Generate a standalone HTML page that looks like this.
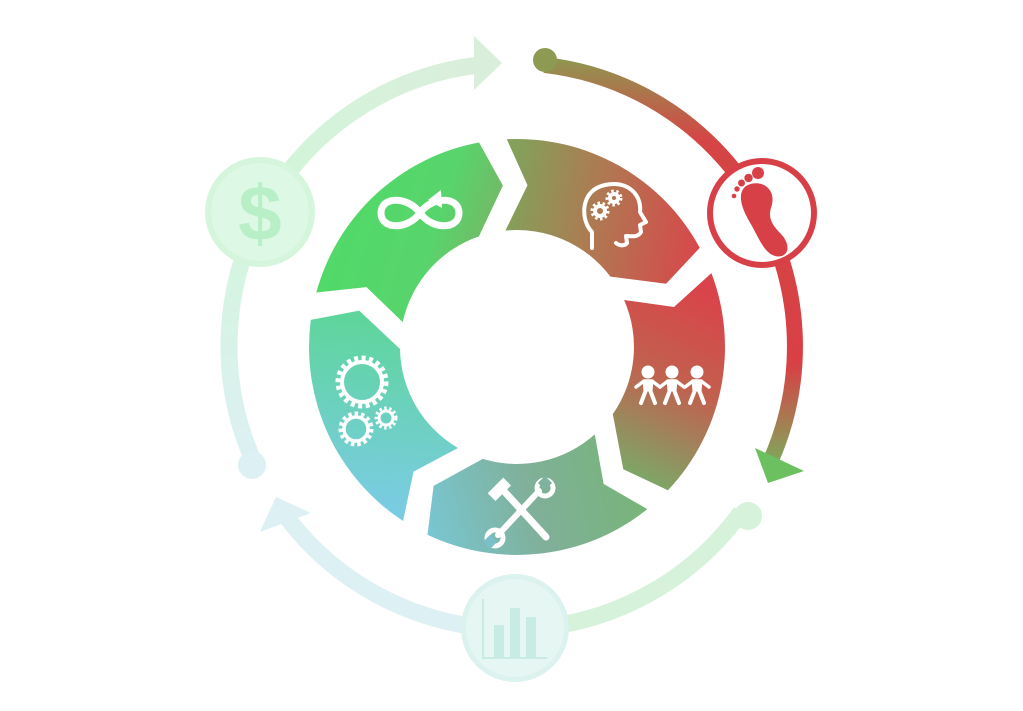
<!DOCTYPE html>
<html><head><meta charset="utf-8"><style>
html,body{margin:0;padding:0;background:#fff;}
svg{display:block;}
</style></head><body>
<svg id="s" width="1023" height="711" viewBox="0 0 1023 711" xmlns="http://www.w3.org/2000/svg">
<defs>
<linearGradient id="gE" gradientUnits="userSpaceOnUse" x1="330" y1="200" x2="505" y2="255"><stop offset="0" stop-color="#50da68"/><stop offset="0.6" stop-color="#58d46c"/><stop offset="1" stop-color="#7db064"/></linearGradient>
<linearGradient id="gA" gradientUnits="userSpaceOnUse" x1="510" y1="200" x2="705" y2="230"><stop offset="0" stop-color="#84a05a"/><stop offset="0.45" stop-color="#b07852"/><stop offset="1" stop-color="#d9464a"/></linearGradient>
<linearGradient id="gB" gradientUnits="userSpaceOnUse" x1="720" y1="300" x2="630" y2="480"><stop offset="0" stop-color="#d9444a"/><stop offset="0.45" stop-color="#c2604e"/><stop offset="1" stop-color="#7aaa68"/></linearGradient>
<linearGradient id="gC" gradientUnits="userSpaceOnUse" x1="640" y1="470" x2="420" y2="530"><stop offset="0" stop-color="#78b478"/><stop offset="0.5" stop-color="#80b09a"/><stop offset="1" stop-color="#78c8d6"/></linearGradient>
<linearGradient id="gD" gradientUnits="userSpaceOnUse" x1="380" y1="305" x2="360" y2="505"><stop offset="0" stop-color="#5cd696"/><stop offset="1" stop-color="#7acce2"/></linearGradient>
<linearGradient id="gRed" gradientUnits="userSpaceOnUse" x1="0" y1="55" x2="0" y2="485"><stop offset="0" stop-color="#8c9a52"/><stop offset="0.2" stop-color="#d54545"/><stop offset="0.72" stop-color="#d84045"/><stop offset="1" stop-color="#6cc060"/></linearGradient>
<linearGradient id="gL" gradientUnits="userSpaceOnUse" x1="0" y1="470" x2="0" y2="210"><stop offset="0" stop-color="#ddf0f4"/><stop offset="1" stop-color="#d3f5dc"/></linearGradient>
<linearGradient id="gT" gradientUnits="userSpaceOnUse" x1="260" y1="0" x2="480" y2="0"><stop offset="0" stop-color="#d2f5da"/><stop offset="1" stop-color="#dbeedc"/></linearGradient>
</defs>
<g id="ring"></g>
<g id="outer"></g>

<polygon points="474,36 474,90 502,63" fill="#d9eedb"/>
<circle cx="545" cy="60" r="12" fill="#8c9a52"/>
<polygon points="755,448 804,471 768,483" fill="#6cc060"/>
<polygon points="276,497 260,532 311,513" fill="#ddf0f4"/>
<circle cx="252" cy="465" r="14" fill="#ddf0f4"/>
<circle cx="748" cy="516" r="14" fill="#d6f2da"/>

<circle cx="260" cy="212" r="55" fill="#d5f5dd"/>
<circle cx="260" cy="212" r="49" fill="#ddf8e4"/>
<text x="260" y="240" text-anchor="middle" font-family="Liberation Sans, sans-serif" font-weight="bold" font-size="78" fill="#b9efc6">$</text>

<circle cx="515" cy="628" r="54" fill="#dbf2ee"/>
<circle cx="515" cy="628" r="49" fill="#e6f6f3"/>
<polyline points="483,599 483,658 547,658" fill="none" stroke="#c8ebe3" stroke-width="2"/>
<rect x="494" y="625" width="10" height="33" fill="#c8ebe3"/>
<rect x="510" y="608" width="10" height="50" fill="#c8ebe3"/>
<rect x="526" y="617" width="10" height="41" fill="#c8ebe3"/>

<circle cx="762" cy="213" r="52" fill="#fff" stroke="#d84048" stroke-width="6"/>
<g fill="#d84048">
<path d="M746,186 C760,178 778,188 771,208 C768,218 772,225 781,234 C793,247 787,259 775,256 C765,253 760,241 752,226 C742,210 736,194 746,186 Z"/>
<circle cx="758" cy="173" r="6"/><circle cx="748.5" cy="178" r="4.2"/><circle cx="741.5" cy="183" r="3.5"/><circle cx="737" cy="189" r="2.7"/><circle cx="734" cy="196" r="2.3"/>
</g>

<g fill="none" stroke="#fff" stroke-width="7" stroke-linecap="round">
<path d="M420,213 C432,196 459,196 459,213 C459,230 432,230 420,213 C408,196 381,196 381,213 C381,230 408,230 420,213"/>
</g>
<polygon points="428,200 441,190 442,208" fill="#fff"/>

<g fill="none" stroke="#fff" stroke-width="4" stroke-linejoin="round" stroke-linecap="round">
<path d="M592,248 L592,232 C580,220 580,190 605,185 C628,180 642,195 640,212 L646,222 L640,225 L641,232 C638,238 630,236 626,236 L627,243 C624,247 618,245 616,243"/>
<circle cx="600" cy="211" r="5"/><circle cx="614" cy="198" r="4"/>
</g>
<g fill="none" stroke="#fff" stroke-width="3" stroke-dasharray="2.5 2.5">
<circle cx="600" cy="211" r="8"/><circle cx="614" cy="198" r="7"/>
</g>

<g id="people" fill="#fff" stroke="#fff" stroke-linecap="round" stroke-linejoin="round"></g>

<g stroke="#fff" stroke-linecap="round" fill="none">
<line x1="503" y1="490" x2="546" y2="537" stroke-width="7"/>
<line x1="539" y1="491" x2="498" y2="535" stroke-width="6"/>
<circle cx="545" cy="488" r="8" stroke-width="5"/>
<circle cx="495" cy="538" r="8" stroke-width="5"/>
</g>
<rect x="488" y="484" width="22" height="11" fill="#fff" transform="rotate(-45 499 489)"/>
<rect x="540" y="478" width="10" height="10" fill="#80b2a0" transform="rotate(45 545 483)"/>
<rect x="485" y="537" width="10" height="10" fill="#7bc0c8" transform="rotate(45 490 542)"/>

<g fill="none" stroke="#fff">
<circle cx="362" cy="382" r="20" stroke-width="4"/>
<circle cx="362" cy="382" r="24" stroke-width="5" stroke-dasharray="4 3.5"/>
<circle cx="356" cy="429" r="12" stroke-width="3.5"/>
<circle cx="356" cy="429" r="15.5" stroke-width="4" stroke-dasharray="3.5 3"/>
<circle cx="386" cy="418" r="7" stroke-width="3"/>
<circle cx="386" cy="418" r="10" stroke-width="3" stroke-dasharray="2.5 2.5"/>
</g>
</svg>
<script>
(function(){
var NS="http://www.w3.org/2000/svg";
function el(tag,attrs,parent){var e=document.createElementNS(NS,tag);for(var k in attrs)e.setAttribute(k,attrs[k]);parent.appendChild(e);return e;}
var cx=517,cy=347,R=208,r=117,M=162;
function P(rad,a){a=a*Math.PI/180;return (cx+rad*Math.sin(a)).toFixed(1)+","+(cy-rad*Math.cos(a)).toFixed(1);}
var T=[-5,67,139,211,283,355];
var fills=["url(#gA)","url(#gB)","url(#gC)","url(#gD)","url(#gE)"];
var ring=document.getElementById("ring");
for(var i=0;i<5;i++){
 var s=T[i],e=T[i+1];
 var d="M"+P(R,s+2.2)+" A"+R+","+R+" 0 0 1 "+P(R,e-5.5)+" L"+P(M,e)+" L"+P(r,e-14)+" A"+r+","+r+" 0 0 0 "+P(r,s-0.7)+" L"+P(M,s+8.7)+" Z";
 el("path",{d:d,fill:fills[i]},ring);
}
var ox=512,oy=346,OR=283;
function Q(a){a=a*Math.PI/180;return (ox+OR*Math.sin(a)).toFixed(1)+","+(oy-OR*Math.cos(a)).toFixed(1);}
function arc(a1,a2,col,w){el("path",{d:"M"+Q(a1)+" A"+OR+","+OR+" 0 0 1 "+Q(a2),fill:"none",stroke:col,"stroke-width":w},document.getElementById("outer"));}
arc(6.6,113.5,"url(#gRed)",16);
arc(299.5,352.5,"url(#gT)",17);
arc(245.4,299.5,"url(#gL)",17);
arc(180,232.5,"#ddf0f4",17);
arc(126,180,"#d6f2da",17);
var pg=document.getElementById("people");
[648,672,697].forEach(function(x){
 el("circle",{cx:x,cy:372,r:6.5,stroke:"none"},pg);
 el("path",{d:"M"+(x-12)+",387 L"+(x-4)+",381 L"+(x+4)+",381 L"+(x+12)+",387",fill:"none","stroke-width":3.5},pg);
 el("path",{d:"M"+(x-5)+",380 L"+(x+5)+",380 L"+(x+4)+",391 L"+(x-4)+",391 Z","stroke-width":1},pg);
 el("path",{d:"M"+(x-2)+",390 L"+(x-7)+",403 M"+(x+2)+",390 L"+(x+7)+",403",fill:"none","stroke-width":4},pg);
});
})();
</script>
</body></html>
